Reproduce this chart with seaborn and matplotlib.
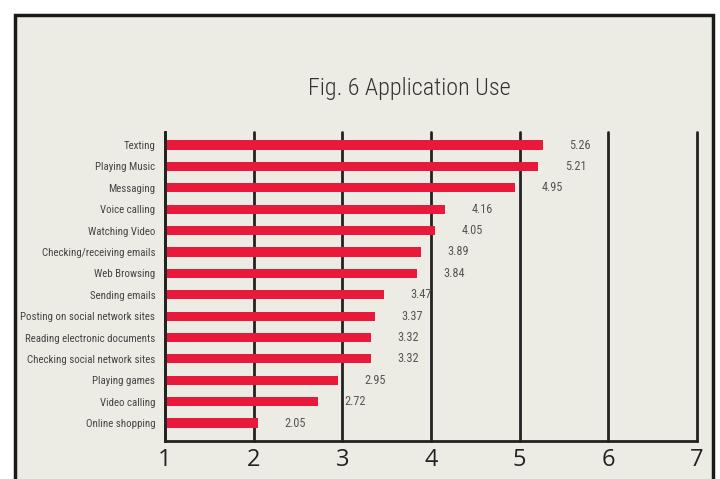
import matplotlib
matplotlib.use("Agg")
import matplotlib.pyplot as plt
import seaborn as sns
import pandas as pd
from matplotlib.patches import Rectangle

# Data
apps = ["Texting", "Playing Music", "Messaging", "Voice calling", "Watching Video",
        "Checking/receiving emails", "Web Browsing", "Sending emails",
        "Posting on social network sites", "Reading electronic documents",
        "Checking social network sites", "Playing games", "Video calling",
        "Online shopping"]
scores = [5.26, 5.21, 4.95, 4.16, 4.05, 3.89, 3.84, 3.47, 3.37, 3.32, 3.32, 2.95, 2.72, 2.05]
x_ticks = [1, 2, 3, 4, 5, 6, 7]

df = pd.DataFrame({"app": apps, "score": scores})

bg = "#edece4"
red = "#e8193a"
narrow = ["Roboto Condensed", "Roboto", "DejaVu Sans"]

sns.set_style("white")
plt.rcParams["font.family"] = narrow

fig = plt.figure(figsize=(7.2, 4.79), dpi=100)
fig.patch.set_facecolor("white")
# beige panel with black frame (open at the bottom of the crop)
frame = Rectangle((15 / 720, -0.05), (713 - 15) / 720, 1.05 - 15 / 479,
                  transform=fig.transFigure, facecolor=bg,
                  edgecolor="#1a1a1a", linewidth=2.5, zorder=-10)
fig.patches.append(frame)

ax = fig.add_axes([165 / 720, 1 - 441 / 479, (697 - 165) / 720, (441 - 132) / 479])
ax.set_facecolor(bg)
ax.set_zorder(5)

sns.barplot(data=df, y="app", x="score", orient="h", color=red, width=0.43,
            saturation=1, linewidth=0, ax=ax, zorder=2)

for i, v in enumerate(scores):
    ax.annotate(f"{v:.2f}", xy=(v, i), xytext=(19, 0), textcoords="offset points",
                va="center", ha="left", fontsize=8.8, color="#555555")

ax.set_xlim(1, 7)
ax.set_ylim(13.84, -0.61)
ax.set_xticks(x_ticks)
ax.set_xticklabels([str(t) for t in x_ticks], fontsize=17, color="#222222",
                   family=["Open Sans", "DejaVu Sans"])
ax.tick_params(axis="x", length=0, pad=5)
ax.tick_params(axis="y", length=0, pad=7, labelsize=7.8, labelcolor="#444444")
ax.xaxis.grid(True, color="#222222", linewidth=2)
for gl in ax.get_xgridlines():
    gl.set_clip_on(False)
ax.set_axisbelow(True)
ax.set_xlabel("")
ax.set_ylabel("")

for s in ["top", "right"]:
    ax.spines[s].set_visible(False)
for s in ["left", "bottom"]:
    ax.spines[s].set_color("#222222")
    ax.spines[s].set_linewidth(2)
    ax.spines[s].set_zorder(4)

fig.text(409 / 720, 1 - 88 / 479, "Fig. 6 Application Use", ha="center", va="center",
         fontsize=17.4, fontweight="light", color="#333333", zorder=6)

fig.savefig("out.png", dpi=100, facecolor=fig.get_facecolor())
